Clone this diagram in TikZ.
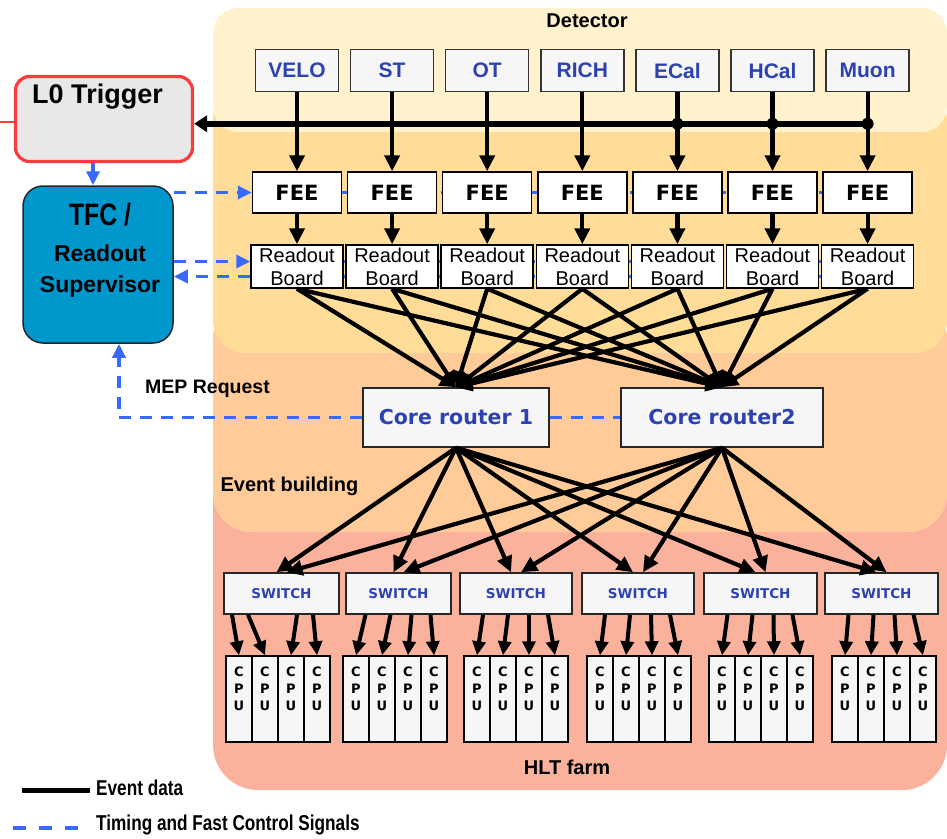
\documentclass[tikz,border=0pt]{standalone}
\usepackage{fontspec}
\setmainfont{Liberation Sans}
\newfontfamily\heavyfont{DejaVu Sans}
\newfontfamily\narrowfont[FakeStretch=0.8]{Liberation Sans}
\usetikzlibrary{arrows.meta,calc}

\pgfdeclarelayer{panels}
\pgfdeclarelayer{wires}
\pgfsetlayers{panels,wires,main}

\definecolor{detpanel}{RGB}{255,242,204}
\definecolor{feepanel}{RGB}{255,221,153}
\definecolor{evbpanel}{RGB}{255,203,153}
\definecolor{hltpanel}{RGB}{250,178,157}
\definecolor{labelblue}{RGB}{45,66,178}
\definecolor{ctrlblue}{RGB}{56,105,255}
\definecolor{tfcfill}{RGB}{0,152,204}
\definecolor{boxgray}{RGB}{246,246,246}
\definecolor{l0red}{RGB}{250,60,60}
\definecolor{l0fill}{RGB}{232,232,232}

\newcommand\setsize[2]{\fontsize{#1}{#2}\selectfont}

\tikzset{
  detbox/.style={draw=black!80, line width=1.5pt, fill=boxgray, minimum width=83pt,
    minimum height=42pt, inner sep=0pt, font=\bfseries\setsize{21}{24}, text=labelblue},
  feebox/.style={draw=black, line width=1.5pt, fill=white, minimum width=89pt,
    minimum height=41pt, inner sep=0pt, font=\heavyfont\bfseries\setsize{21}{24}},
  rdbox/.style={draw=black, line width=1.5pt, fill=white, minimum width=92pt,
    minimum height=43pt, inner sep=0pt, align=center, font=\setsize{20}{23}},
  routerbox/.style={draw=black!85, line width=1.5pt, fill=boxgray, minimum height=59pt,
    inner sep=0pt, font=\heavyfont\bfseries\setsize{20.5}{24}, text=labelblue},
  switchbox/.style={draw=black!85, line width=1.5pt, fill=boxgray, minimum height=41pt,
    inner sep=0pt, font=\heavyfont\bfseries\setsize{13.5}{16}, text=labelblue},
  cpubox/.style={draw=black, line width=1.5pt, fill=boxgray, minimum width=26pt,
    minimum height=86pt, inner sep=0pt},
  cputext/.style={inner sep=0pt, align=center, font=\heavyfont\bfseries\setsize{13}{17}},
  tfcbox/.style={draw=black!85, line width=1.5pt, fill=tfcfill, rounded corners=20pt,
    minimum width=150pt, minimum height=157pt, inner sep=0pt},
  l0box/.style={draw=l0red, line width=3.2pt, fill=l0fill, rounded corners=14pt,
    minimum width=177pt, minimum height=85pt, inner sep=0pt},
  evdata/.style={line width=4.2pt, -{Triangle[length=16pt,width=15pt]}},
  cpuarrow/.style={line width=4pt, -{Triangle[length=14pt,width=13pt]}},
  busline/.style={line width=5.5pt, -{Triangle[length=13pt,width=16pt]}},
  ctrlline/.style={line width=3.4pt, ctrlblue, dash pattern=on 12pt off 9pt},
  ctrlarrow/.style={ctrlline, -{Triangle[length=14pt,width=13pt]}},
  paneltext/.style={inner sep=0pt, font=\bfseries\setsize{20}{23}},
  legendtext/.style={inner sep=0pt, font=\narrowfont\bfseries\setsize{21.5}{24}},
}

\begin{document}
\begin{tikzpicture}[x=1pt,y=-1pt]
\useasboundingbox (0,0) rectangle (947,838);

% stacked background regions
\begin{pgfonlayer}{panels}
  \fill[hltpanel, rounded corners=45pt] (213,430) rectangle (947,790);
  \fill[evbpanel, rounded corners=38pt] (213,300) rectangle (947,532);
  \fill[feepanel, rounded corners=32pt] (213,88) rectangle (947,353);
  \fill[detpanel, rounded corners=25pt] (213,8) rectangle (947,132);
\end{pgfonlayer}

\node[paneltext] (dettitle) at (587,21) {Detector};
\node[paneltext] (evbtitle) at (289.5,486.5) {Event building};
\node[paneltext] (hlttitle) at (567,767) {HLT farm};

% sub-detectors, front-end electronics and readout boards
\foreach \t [count=\i] in {VELO,ST,OT,RICH,ECal,HCal,Muon} {
  \node[detbox] (d\i) at ({297+95.1*(\i-1)},70.5) {\t};
  \node[feebox] (f\i) at ({297+95.1*(\i-1)},192.5) {FEE};
  \node[rdbox] (r\i) at ({297+95.1*(\i-1)},266.5) {Readout\\Board};
  \draw[evdata] (d\i.south) -- (f\i.north);
  \draw[evdata] (f\i.south) -- (r\i.north);
}

% L0 trigger and readout supervisor
\node[l0box] (l0) at (104,119) {};
\node[font=\bfseries\setsize{27}{30}, inner sep=0pt] (l0text) at (97.5,97) {L0 Trigger};
\coordinate (redlead) at (0,122);
\draw[l0red, line width=2.5pt] (redlead) -- (redlead -| l0.west);

\node[tfcbox] (tfc) at (98,264.5) {};
\node[font=\narrowfont\bfseries\setsize{31}{34}, inner sep=0pt] (tfcline1) at (100,215) {TFC /};
\node[font=\bfseries\setsize{23}{26}, inner sep=0pt] (tfcline2) at (100,253) {Readout};
\node[font=\bfseries\setsize{23}{26}, inner sep=0pt] (tfcline3) at (100,287) {Supervisor};

% trigger bus from the calorimeters and muon system
\coordinate (busend) at ($(d7.south)+(0,31.5)$);
\draw[busline] (busend) -- (busend -| l0.east);
\foreach \i in {5,6,7} \fill (d\i.south |- busend) circle (6pt);

% core routers
\node[routerbox, minimum width=186pt] (cr1) at (456,417.5) {Core router 1};
\node[routerbox, minimum width=202pt] (cr2) at (722,417.5) {Core router2};
\foreach \i in {1,...,7} {
  \draw[evdata] (r\i.south) -- (cr1.north);
  \draw[evdata] (r\i.south) -- (cr2.north);
}

% farm switches and CPUs
\foreach \cx/\w [count=\g] in {281.5/115,398.5/105,516/112,638/112,760.5/113,881.5/113} {
  \node[switchbox, minimum width=\w pt] (sw\g) at (\cx,593.5) {SWITCH};
}
\foreach \lx [count=\g] in {226,343,464,587,709,832} {
  \foreach \k in {1,...,4} {
    \node[cpubox] (c\g-\k) at ({\lx+13+26*(\k-1)},699) {};
    \node[cputext] at ($(c\g-\k.north)+(0,33.5)$) {C\\P\\U};
  }
}
\foreach \g in {1,...,6} {
  \draw[evdata] (cr1.south) -- ($(sw\g.north)+(-5,0)$);
  \draw[evdata] (cr2.south) -- ($(sw\g.north)+(5,0)$);
}
\foreach \dx [count=\k] in {-49.5,-33.5,15.5,31.5}
  \draw[cpuarrow] ($(sw1.south)+(\dx,0)$) -- (c1-\k.north);
\foreach \g in {2,...,6} {
  \foreach \dx [count=\k] in {-33,-8,13,32}
    \draw[cpuarrow] ($(sw\g.south)+(\dx,0)$) -- (c\g-\k.north);
}

% timing and fast control
\coordinate (rin) at ($(r1.west)+(0,-5)$);
\coordinate (rout) at ($(r1.west)+(0,10)$);
\begin{pgfonlayer}{wires}
  \draw[ctrlline] (f1.west) -- (f7.center);
  \draw[ctrlline] (rin) -- (rin -| r7.center);
  \draw[ctrlline] (rout) -- (rout -| r7.center);
\end{pgfonlayer}
\draw[ctrlarrow] (tfc.east |- f1.west) -- (f1.west);
\draw[ctrlarrow] (tfc.east |- rin) -- (rin);
\draw[ctrlarrow] (rout) -- (tfc.east |- rout);
\coordinate (l0drop) at ($(l0.south)+(-11,0)$);
\draw[ctrlarrow] (l0drop) -- (l0drop |- tfc.north);
\draw[ctrlline] (cr1.east) -- (cr2.west);
\coordinate (mepcorner) at (119,417.5);
\draw[ctrlarrow] (cr1.west) -- (mepcorner) -- (mepcorner |- tfc.south);
\node[font=\bfseries\setsize{19.5}{22}, inner sep=0pt] (meptext) at (207.5,389) {MEP Request};

% legend
\coordinate (lgdataA) at (22,790);
\coordinate (lgdataB) at (90,790);
\draw[line width=5pt] (lgdataA) -- (lgdataB);
\node[legendtext, anchor=west] (lgdatatext) at (96,788) {Event data};
\coordinate (lgctrlA) at (13,828);
\coordinate (lgctrlB) at (78,828);
\draw[ctrlline, dash pattern=on 13pt off 13pt] (lgctrlA) -- (lgctrlB);
\node[legendtext, anchor=west] (lgctrltext) at (96,825) {Timing and Fast Control Signals};
\end{tikzpicture}
\end{document}
